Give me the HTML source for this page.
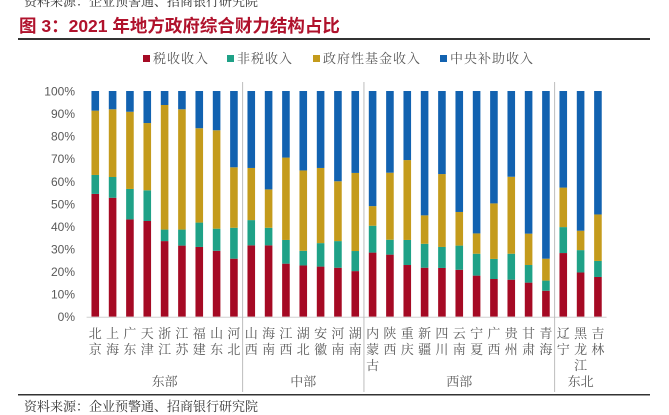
<!DOCTYPE html>
<html><head><meta charset="utf-8">
<style>
html,body{margin:0;padding:0;background:#fff;width:669px;height:415px;overflow:hidden}
svg{display:block;font-family:"Liberation Sans","Noto Serif CJK SC","Noto Sans CJK SC",sans-serif}
</style></head>
<body>
<svg id="chart" width="669" height="415" viewBox="0 0 669 415">
  <text x="24" y="6" font-size="13" fill="#333" font-family="'Noto Serif CJK SC',serif">资料来源：企业预警通、招商银行研究院</text>
  <text x="19" y="32" font-size="17.5" font-weight="bold" fill="#b0122c" font-family="'Liberation Sans','Noto Sans CJK SC',sans-serif">图 3：2021 年地方政府综合财力结构占比</text>
  <rect x="18" y="38" width="632" height="2" fill="#333"/>
  <g id="legend"></g>
  <g id="plot"></g>
  <rect x="18" y="394" width="632" height="1.5" fill="#333"/>
  <text x="24" y="411" font-size="13" fill="#333" font-family="'Noto Serif CJK SC',serif">资料来源：企业预警通、招商银行研究院</text>
</svg>
<script>
const categories = ["北京","上海","广东","天津","浙江","江苏","福建","山东","河北","山西","海南","江西","湖北","安徽","河南","湖南","内蒙古","陕西","重庆","新疆","四川","云南","宁夏","广西","贵州","甘肃","青海","辽宁","黑龙江","吉林"];
const taxShare    = [54.4,52.7,43.1,42.4,33.5,31.5,30.9,29.2,25.7,31.6,31.6,23.5,22.7,22.2,21.7,20.2,28.4,27.5,22.9,21.7,21.6,20.8,18.2,16.7,16.4,15.1,11.5,28.2,19.6,17.6];
const nonTaxShare = [8.4,9.2,13.5,13.6,5.1,7.1,10.8,9.8,13.7,11.2,7.8,10.5,6.5,10.4,11.8,8.9,11.9,6.6,11.1,10.6,9.3,10.7,9.7,8.9,11.5,7.8,4.5,11.5,9.9,7.1];
const fundShare   = [28.5,30.0,34.2,29.8,55.2,53.3,41.8,43.6,26.8,23.1,17.0,36.5,35.6,33.3,26.5,34.6,8.7,29.7,35.4,12.6,32.3,14.9,9.0,24.6,34.1,13.9,9.7,17.5,8.6,20.6];
const centralShare= [8.7,8.1,9.2,14.2,6.2,8.1,16.5,17.4,33.8,34.1,43.6,29.5,35.2,34.1,40.0,36.3,51.0,36.2,30.6,55.1,36.8,53.6,63.1,49.8,38.0,63.2,74.3,42.8,61.9,54.7];
const yTicks = [0,10,20,30,40,50,60,70,80,90,100];
const seriesNames = ["税收收入","非税收入","政府性基金收入","中央补助收入"];
const groupNames = ["东部","中部","西部","东北"];
const groupSizes = [9,7,11,3];

const colors = ["#a50a24","#1fa187","#c49b1c","#1262b0"];
const NS = "http://www.w3.org/2000/svg";
const plot = document.getElementById("plot");
const legend = document.getElementById("legend");
const X0 = 86.6, X1 = 606.6, Y0 = 316.7, Y1 = 91;
const band = (X1 - X0) / categories.length;
const xScale = i => X0 + band * (i + 0.5);
const yScale = v => Y0 - (Y0 - Y1) * v / 100;
function mk(tag, attrs, parent){const e=document.createElementNS(NS,tag);for(const k in attrs)e.setAttribute(k,attrs[k]);parent.appendChild(e);return e;}

const legX = [143, 227, 313, 440];
seriesNames.forEach((n,i)=>{
  const sw = mk("rect",{x:legX[i],y:55,width:7,height:7,fill:colors[i]},legend);
  
  
  const t = mk("text",{x:legX[i]+10,y:63,"font-size":13,fill:"#595959","letter-spacing":"1","font-family":"'Noto Serif CJK SC',serif"},legend);
  t.textContent = n;
  
  
});

yTicks.forEach(v=>{
  const t = mk("text",{x:75,y:yScale(v)+4.5,"font-size":12,fill:"#595959","text-anchor":"end"},plot);
  t.textContent = v+"%";
  
  
});

const series = [taxShare, nonTaxShare, fundShare, centralShare];
categories.forEach((c,i)=>{
  let base = 0;
  series.forEach((s,k)=>{
    const v = (k===3) ? Math.max(0, 100 - base) : s[i];
    const r = mk("rect",{x:xScale(i)-3.8,y:yScale(base+v),width:7.6,height:Math.max(0,yScale(base)-yScale(base+v)),fill:colors[k]},plot);
    
    
    base += v;
  });
  c.split("").forEach((ch,j)=>{
    const t = mk("text",{x:xScale(i),y:338+j*16,"font-size":13,fill:"#595959","text-anchor":"middle","font-family":"'Noto Serif CJK SC',serif"},plot);
    t.textContent = ch;
    
    
  });
});

const ax = mk("line",{x1:X0,y1:Y0+0.5,x2:X1,y2:Y0+0.5,stroke:"#d0d0d0","stroke-width":1},plot);



let start = 0;
groupSizes.forEach((g,gi)=>{
  const end = start + g;
  if (gi < groupSizes.length-1){
    const sx = X0 + band*end;
    const l = mk("line",{x1:sx,y1:82,x2:sx,y2:392,stroke:"#bdbdbd","stroke-width":1},plot);
    
    
  }
  const t = mk("text",{x:(X0+band*start+X0+band*end)/2,y:386,"font-size":13,fill:"#595959","text-anchor":"middle","font-family":"'Noto Serif CJK SC',serif"},plot);
  t.textContent = groupNames[gi];
  
  
  start = end;
});
</script>
</body></html>
